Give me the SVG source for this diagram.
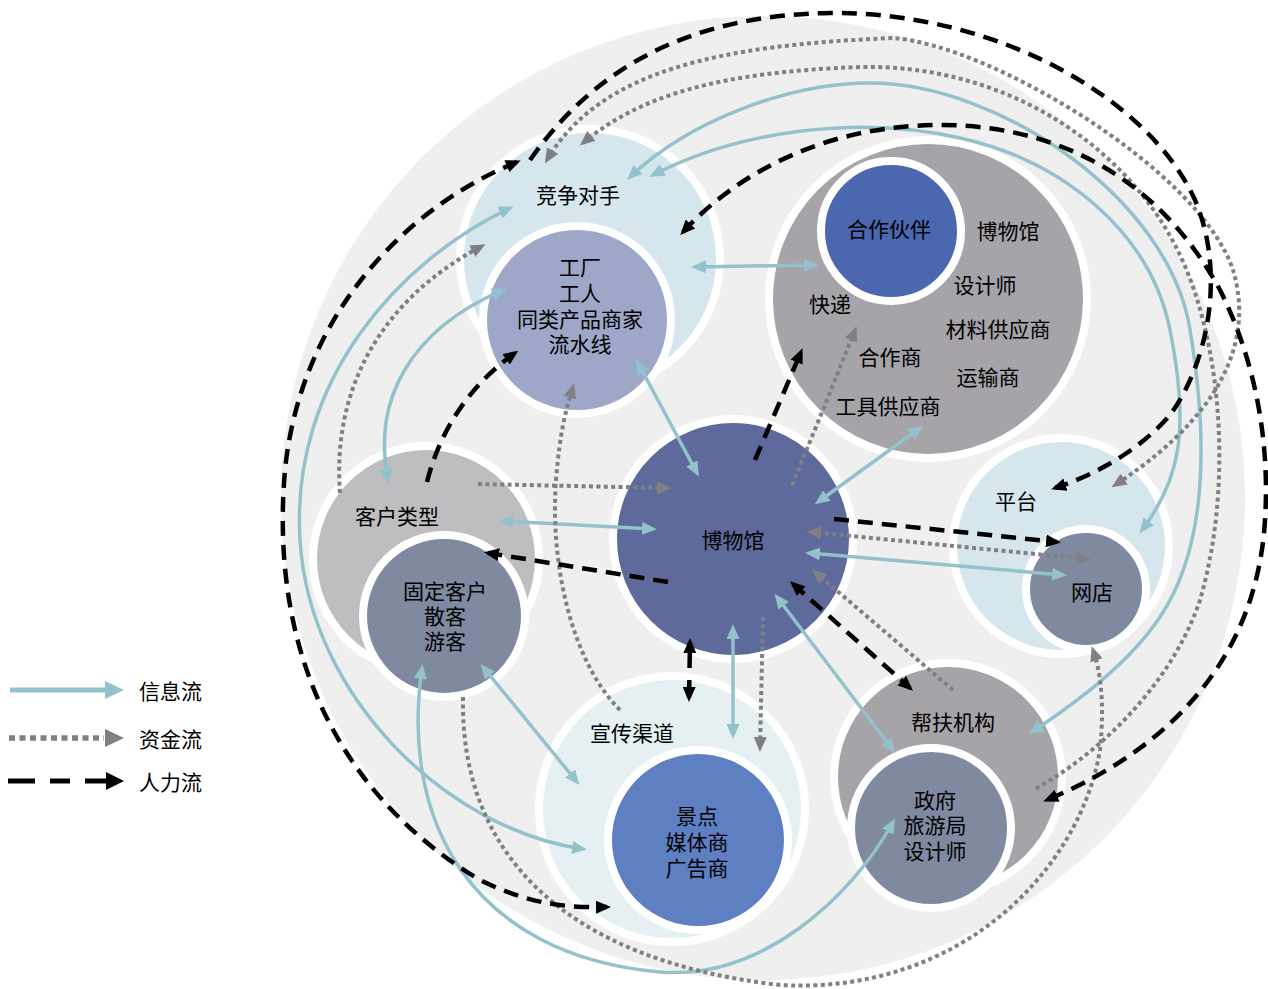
<svg xmlns="http://www.w3.org/2000/svg" width="1268" height="989" viewBox="0 0 1268 989">
  <style>
    .ring { stroke: #ffffff; stroke-width: 8; }
    .lbl { font-family: "Liberation Serif", "Noto Sans CJK SC", serif; font-size: 21px; fill: #000; text-anchor: middle; dominant-baseline: central; }
    .leg { font-family: "Liberation Serif", "Noto Sans CJK SC", serif; font-size: 21px; fill: #000; dominant-baseline: central; }
    .info { fill: none; stroke: #93c1cc; stroke-width: 3.5; }
    .fund { fill: none; stroke: #808084; stroke-width: 4; stroke-dasharray: 4 3.4; }
    .labor { fill: none; stroke: #000000; stroke-width: 4.5; stroke-dasharray: 15 9; }
  </style>
  <defs>
    <marker id="ab" markerUnits="userSpaceOnUse" markerWidth="15" markerHeight="13" refX="11" refY="6.5" orient="auto-start-reverse">
      <path d="M0,0 L15,6.5 L0,13 z" fill="#93c1cc"/>
    </marker>
    <marker id="ag" markerUnits="userSpaceOnUse" markerWidth="15" markerHeight="13" refX="11" refY="6.5" orient="auto-start-reverse">
      <path d="M0,0 L15,6.5 L0,13 z" fill="#808084"/>
    </marker>
    <marker id="ak" markerUnits="userSpaceOnUse" markerWidth="15" markerHeight="13" refX="11" refY="6.5" orient="auto-start-reverse">
      <path d="M0,0 L15,6.5 L0,13 z" fill="#000000"/>
    </marker>
  </defs>

  <rect width="1268" height="989" fill="#ffffff"/>
  <!-- ecosystem backdrop -->
  <circle cx="763" cy="498" r="482" fill="#efefef"/>

  <g id="competitors">
    <circle class="ring" cx="590" cy="259" r="130" fill="#d5e6ec"/>
    <text class="lbl" x="578" y="196">竞争对手</text>
  </g>
  <g id="factory">
    <circle class="ring" cx="577" cy="320" r="94" fill="#9ea7c8"/>
    <text class="lbl" y="268"><tspan x="580">工厂</tspan><tspan x="580" dy="26">工人</tspan><tspan x="580" dy="26">同类产品商家</tspan><tspan x="580" dy="25">流水线</tspan></text>
  </g>
  <g id="partners">
    <circle class="ring" cx="928" cy="299" r="159" fill="#a6a4a9"/>
    <text class="lbl" x="1008" y="232">博物馆</text>
    <text class="lbl" x="985" y="286">设计师</text>
    <text class="lbl" x="830" y="305">快递</text>
    <text class="lbl" x="998" y="330">材料供应商</text>
    <text class="lbl" x="890" y="358">合作商</text>
    <text class="lbl" x="988" y="378">运输商</text>
    <text class="lbl" x="888" y="407">工具供应商</text>
  </g>
  <g id="partner-core">
    <circle class="ring" cx="891" cy="231" r="70" fill="#4a67b0"/>
    <text class="lbl" x="889" y="230">合作伙伴</text>
  </g>
  <g id="museum">
    <circle class="ring" cx="733" cy="539" r="120" fill="#5e6a9c"/>
    <text class="lbl" x="733" y="541">博物馆</text>
  </g>
  <g id="customer-types">
    <circle class="ring" cx="426" cy="559" r="113" fill="#bebdc0"/>
    <text class="lbl" x="397" y="517">客户类型</text>
  </g>
  <g id="customers">
    <circle class="ring" cx="444" cy="616" r="81" fill="#7f89a0"/>
    <text class="lbl" y="592"><tspan x="445">固定客户</tspan><tspan x="445" dy="25">散客</tspan><tspan x="445" dy="25">游客</tspan></text>
  </g>
  <g id="channels">
    <circle class="ring" cx="672" cy="809" r="133" fill="#e6f0f3"/>
    <text class="lbl" x="632" y="734">宣传渠道</text>
  </g>
  <g id="media">
    <circle class="ring" cx="698" cy="840" r="90" fill="#5f7fc3"/>
    <text class="lbl" y="817"><tspan x="697">景点</tspan><tspan x="697" dy="26">媒体商</tspan><tspan x="697" dy="26">广告商</tspan></text>
  </g>
  <g id="support">
    <circle class="ring" cx="948" cy="777" r="114" fill="#a6a4a9"/>
    <text class="lbl" x="953" y="723">帮扶机构</text>
  </g>
  <g id="government">
    <circle class="ring" cx="931" cy="828" r="80" fill="#7f89a0"/>
    <text class="lbl" y="801"><tspan x="935">政府</tspan><tspan x="935" dy="25">旅游局</tspan><tspan x="935" dy="26">设计师</tspan></text>
  </g>
  <g id="platform">
    <circle class="ring" cx="1061" cy="546" r="108" fill="#d5e6ec"/>
    <text class="lbl" x="1016" y="502">平台</text>
  </g>
  <g id="webshop">
    <circle class="ring" cx="1086" cy="589" r="60" fill="#7f89a0"/>
    <text class="lbl" x="1092" y="593">网店</text>
  </g>

  <g id="connectors">
    <!-- information flow -->
    <path class="info" d="M695,267 L815,265" marker-start="url(#ab)" marker-end="url(#ab)"/>
    <path class="info" d="M638,363 L697,473" marker-start="url(#ab)" marker-end="url(#ab)"/>
    <path class="info" d="M502,521 L653,529" marker-start="url(#ab)" marker-end="url(#ab)"/>
    <path class="info" d="M818,502 L920,428" marker-start="url(#ab)" marker-end="url(#ab)"/>
    <path class="info" d="M809,553 L1063,575" marker-start="url(#ab)" marker-end="url(#ab)"/>
    <path class="info" d="M777,597 L893,750" marker-start="url(#ab)" marker-end="url(#ab)"/>
    <path class="info" d="M733,628 L733,735" marker-start="url(#ab)" marker-end="url(#ab)"/>
    <path class="info" d="M483,667 L577,782" marker-start="url(#ab)" marker-end="url(#ab)"/>
    <path class="info" d="M388,480 C372,400 410,330 503,290" marker-start="url(#ab)" marker-end="url(#ab)"/>
    <path class="info" d="M510,208 C400,260 290,380 300,540 C310,700 450,830 583,849" marker-start="url(#ab)" marker-end="url(#ab)"/>
    <path class="info" d="M422,668 C400,820 470,955 660,972 C760,980 850,900 893,822" marker-start="url(#ab)" marker-end="url(#ab)"/>
    <path class="info" d="M630,177 C690,120 790,83 870,83 C1000,83 1170,200 1190,330 C1210,450 1205,550 1160,617 C1130,662 1080,700 1032,732" marker-start="url(#ab)" marker-end="url(#ab)"/>
    <path class="info" d="M653,175 C740,130 860,115 960,138 C1060,160 1150,230 1170,330 C1190,430 1180,480 1142,530" marker-start="url(#ab)" marker-end="url(#ab)"/>

    <!-- funds flow -->
    <path class="fund" d="M340,493 C332,390 380,300 482,246" marker-end="url(#ag)"/>
    <path class="fund" d="M478,484 L668,488" marker-end="url(#ag)"/>
    <path class="fund" d="M620,710 C570,660 550,560 556,480 C560,430 566,410 573,387" marker-end="url(#ag)"/>
    <path class="fund" d="M463,697 C460,850 560,960 780,985 C960,995 1080,870 1100,750 C1105,700 1100,670 1093,650" marker-end="url(#ag)"/>
    <path class="fund" d="M583,143 C640,95 720,72 860,67 C1000,64 1120,140 1175,245 C1220,330 1235,480 1200,600 C1170,690 1090,760 1033,790" marker-start="url(#ag)"/>
    <path class="fund" d="M547,160 C600,70 720,45 893,38 C990,45 1200,170 1233,270 C1248,320 1245,400 1115,485" marker-start="url(#ag)" marker-end="url(#ag)"/>
    <path class="fund" d="M792,485 C815,430 835,380 855,330" marker-end="url(#ag)"/>
    <path class="fund" d="M810,532 L1087,559" marker-start="url(#ag)" marker-end="url(#ag)"/>
    <path class="fund" d="M953,690 L815,572" marker-end="url(#ag)"/>
    <path class="fund" d="M763,617 L760,748" marker-end="url(#ag)"/>

    <!-- labour flow -->
    <path class="labor" d="M530,160 C600,60 700,15 830,13 C1000,12 1150,100 1195,200 C1225,270 1210,360 1170,415 C1140,450 1095,475 1055,488" marker-end="url(#ak)"/>
    <path class="labor" d="M683,232 C740,170 830,125 940,125 C1060,125 1160,180 1220,290 C1255,360 1270,440 1265,520 C1258,640 1190,740 1047,800" marker-start="url(#ak)" marker-end="url(#ak)"/>
    <path class="labor" d="M517,162 C400,210 300,320 285,470 C270,640 330,790 480,880 C530,905 570,908 607,907" marker-start="url(#ak)" marker-end="url(#ak)"/>
    <path class="labor" d="M834,519 L1057,542" marker-end="url(#ak)"/>
    <path class="labor" d="M668,582 L488,553" marker-end="url(#ak)"/>
    <path class="labor" d="M427,482 C440,430 470,385 515,353" marker-end="url(#ak)"/>
    <path class="labor" d="M755,460 L801,352" marker-end="url(#ak)"/>
    <path class="labor" d="M690,642 L689,698" style="stroke-dasharray: 26 12 30" marker-start="url(#ak)" marker-end="url(#ak)"/>
    <path class="labor" d="M793,584 L910,688" marker-start="url(#ak)" marker-end="url(#ak)"/>
  </g>

  <g id="legend">
    <path d="M10,690 L108,690" fill="none" stroke="#93c1cc" stroke-width="5"/>
    <path d="M105,681 L124,690 L105,699 z" fill="#93c1cc"/>
    <text class="leg" x="139" y="692">信息流</text>
    <path d="M9,738 L104,738" fill="none" stroke="#808084" stroke-width="5.5" stroke-dasharray="6 4.5"/>
    <path d="M105,729 L124,738 L105,747 z" fill="#808084"/>
    <text class="leg" x="139" y="740">资金流</text>
    <path d="M8,781 L108,781" fill="none" stroke="#000000" stroke-width="5" stroke-dasharray="27 15 20 15 30"/>
    <path d="M106,772 L124,781 L106,790 z" fill="#000000"/>
    <text class="leg" x="139" y="783">人力流</text>
  </g>
</svg>
